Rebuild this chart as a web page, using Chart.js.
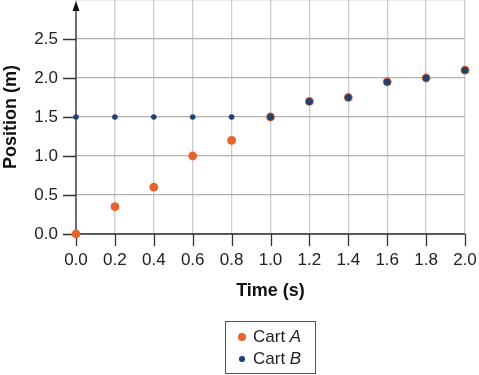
<!DOCTYPE html>
<html>
<head>
<meta charset="utf-8">
<script src="https://cdn.jsdelivr.net/npm/chart.js@4/dist/chart.umd.min.js"></script>
<style>
  html, body { margin: 0; padding: 0; background: #fff; }
  #wrap { position: relative; width: 479px; height: 375px; }
  #legend {
    position: absolute; left: 225px; top: 321px; width: 89px; height: 51px;
    border: 1px solid #555; font: 17px "Liberation Sans", Arial, sans-serif; color: #222;
  }
  #legend .item { position: absolute; left: 0; height: 20px; line-height: 20px; white-space: nowrap; }
  #legend .dot { position: absolute; border-radius: 50%; }
  #legend .txt { position: absolute; left: 27px; top: 0; }
</style>
</head>
<body>
<div id="wrap">
  <canvas id="positionChart" width="479" height="375"></canvas>
  <div id="legend"></div>
</div>
<script>
// values
const timeValues = [0.0, 0.2, 0.4, 0.6, 0.8, 1.0, 1.2, 1.4, 1.6, 1.8, 2.0];
const cartA = [0.0, 0.35, 0.6, 1.0, 1.2, 1.5, 1.7, 1.75, 1.95, 2.0, 2.1];
const cartB = [1.5, 1.5, 1.5, 1.5, 1.5, 1.5, 1.7, 1.75, 1.95, 2.0, 2.1];
const seriesNames = ['A', 'B'];
const yTickValues = [0.0, 0.5, 1.0, 1.5, 2.0, 2.5];

const orange = '#e8622c';
const blue = '#1e4373';
const font = '"Liberation Sans", Arial, sans-serif';

const toPoints = (ys) => timeValues.map((t, i) => ({ x: t, y: ys[i] }));

// no extra room for overhanging tick labels
function noPadding(s) {
    s.paddingLeft = s.paddingRight = s.paddingTop = s.paddingBottom = 0;
}

// black axes with arrow on y, tick marks
const axesPlugin = {
    id: 'axesPlugin',
    beforeDatasetsDraw(chart) {
        const { ctx, chartArea, scales } = chart;
        const x = scales.x, y = scales.y;
        ctx.save();
        ctx.strokeStyle = '#333';
        ctx.fillStyle = '#111';
        ctx.lineWidth = 1.3;
        // x axis + ticks
        ctx.beginPath();
        ctx.moveTo(chartArea.left, chartArea.bottom);
        ctx.lineTo(chartArea.right, chartArea.bottom);
        timeValues.forEach(t => {
            const px = Math.round(x.getPixelForValue(t)) + 0.5;
            ctx.moveTo(px, chartArea.bottom);
            ctx.lineTo(px, chartArea.bottom + 12);
        });
        // y ticks
        yTickValues.forEach(v => {
            const py = Math.round(y.getPixelForValue(v)) + 0.5;
            ctx.moveTo(chartArea.left - 13, py);
            ctx.lineTo(chartArea.left, py);
        });
        ctx.stroke();
        // y axis
        ctx.beginPath();
        ctx.moveTo(chartArea.left, chartArea.bottom);
        ctx.lineTo(chartArea.left, chartArea.top + 8);
        ctx.stroke();
        const tip = Math.max(chartArea.top, 1);
        ctx.beginPath();
        ctx.moveTo(chartArea.left, tip);
        ctx.lineTo(chartArea.left - 3.5, tip + 10);
        ctx.lineTo(chartArea.left + 3.5, tip + 10);
        ctx.closePath();
        ctx.fill();
        ctx.restore();
    }
};

const chart = new Chart(document.getElementById('positionChart'), {
    type: 'scatter',
    data: {
        datasets: [
            {
                label: 'Cart ' + seriesNames[0],
                data: toPoints(cartA),
                backgroundColor: orange,
                borderColor: orange,
                borderWidth: 0,
                pointRadius: 4.4,
                order: 1,
                clip: false
            },
            {
                label: 'Cart ' + seriesNames[1],
                data: toPoints(cartB),
                backgroundColor: blue,
                borderColor: blue,
                borderWidth: 0,
                pointRadius: cartB.map((v, i) => i < 6 && cartA[i] !== v ? 2.8 : 3.5),
                order: 0,
                clip: false
            }
        ]
    },
    options: {
        responsive: false,
        animation: false,
        layout: { autoPadding: false, padding: { left: 0, right: 14, top: 0, bottom: 73 } },
        plugins: {
            legend: { display: false },
            tooltip: { enabled: false }
        },
        scales: {
            x: {
                type: 'linear', min: 0, max: 2,
                afterFit: (s) => { s.height = 68; noPadding(s); },
                afterBuildTicks: (s) => { s.ticks = timeValues.map(v => ({ value: v })); },
                grid: { color: '#cccccc', lineWidth: 1.3, drawTicks: false },
                border: { display: false },
                ticks: {
                    padding: 16, color: '#222', font: { family: font, size: 17 },
                    callback: (v) => Number(v).toFixed(1), maxRotation: 0, autoSkip: false
                },
                title: {
                    display: true, text: 'Time (s)', color: '#111',
                    font: { family: font, size: 18, weight: 'bold' }, padding: 0
                }
            },
            y: {
                type: 'linear', min: 0, max: 3,
                afterFit: (s) => { s.width = 76; noPadding(s); },
                afterBuildTicks: (s) => { s.ticks = yTickValues.concat([3.0]).map(v => ({ value: v })); },
                grid: { color: '#b0b0b0', lineWidth: 1.3, drawTicks: false },
                border: { display: false },
                ticks: {
                    padding: 18, color: '#222', font: { family: font, size: 17 },
                    callback: (v) => v >= 3 ? '' : Number(v).toFixed(1), autoSkip: false
                },
                title: {
                    display: true, text: 'Position (m)', color: '#111',
                    font: { family: font, size: 18, weight: 'bold' }, padding: 0
                }
            }
        }
    },
    plugins: [axesPlugin]
});

// legend with italic series letter
const legend = document.getElementById('legend');
chart.data.datasets.forEach((ds, i) => {
    const item = document.createElement('div');
    item.className = 'item';
    item.style.top = (5 + i * 22) + 'px';
    const r = i === 0 ? 4.4 : 2.8;
    const dot = document.createElement('span');
    dot.className = 'dot';
    dot.style.width = dot.style.height = (2 * r) + 'px';
    dot.style.left = (16 - r) + 'px';
    dot.style.top = (10 - r) + 'px';
    dot.style.background = ds.backgroundColor;
    const txt = document.createElement('span');
    txt.className = 'txt';
    txt.innerHTML = 'Cart <i>' + seriesNames[i] + '</i>';
    item.appendChild(dot);
    item.appendChild(txt);
    legend.appendChild(item);
});
</script>
</body>
</html>
